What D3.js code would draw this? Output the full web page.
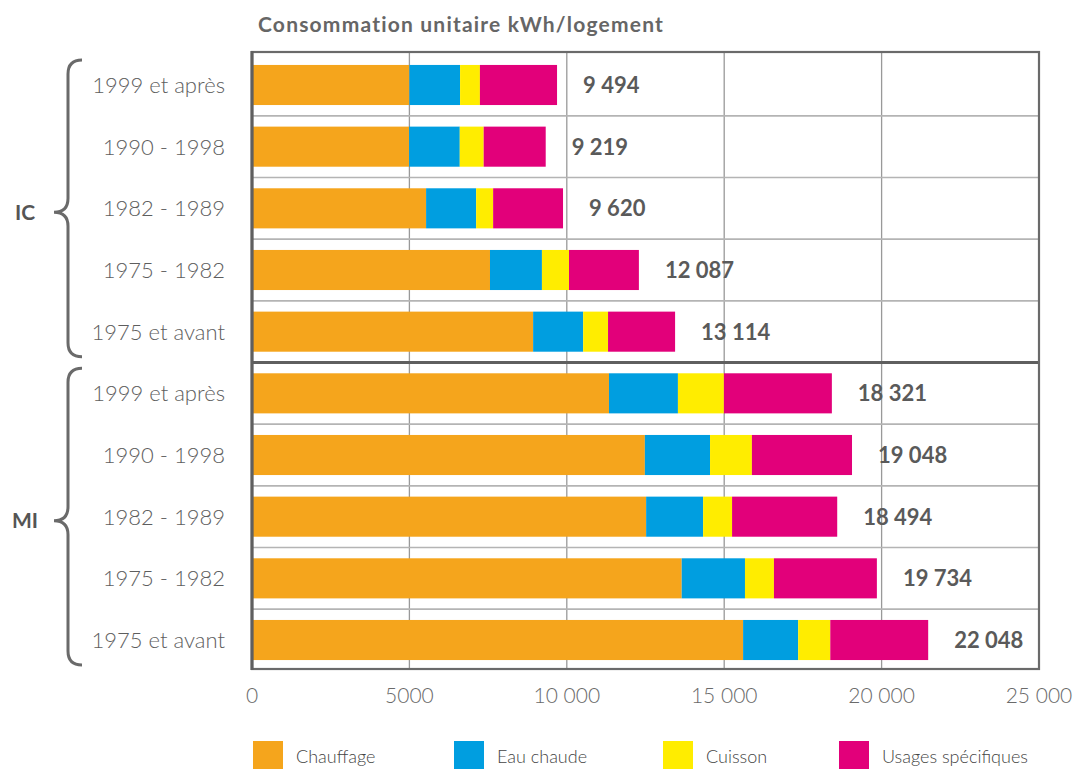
<!DOCTYPE html>
<html><head><meta charset="utf-8">
<script src="https://cdn.jsdelivr.net/npm/d3@7"></script>
<style>
html,body{margin:0;padding:0;background:#fff;}
svg{display:block;font-family:Lato,"Open Sans",sans-serif;}
</style></head>
<body><svg id="c" width="1073" height="769"></svg>
<script>
const groups = ["IC", "MI"];
const categories = ["1999 et après", "1990 - 1998", "1982 - 1989", "1975 - 1982", "1975 et avant"];
const series = ["Chauffage", "Eau chaude", "Cuisson", "Usages spécifiques"];
const chauffage = [5000, 4990, 5530, 7560, 8930, 11340, 12480, 12520, 13650, 15600];
const eauChaude = [1610, 1610, 1590, 1650, 1590, 2190, 2070, 1810, 2010, 1750];
const cuisson   = [630, 760, 540, 860, 790, 1460, 1330, 920, 920, 1020];
const usages    = [2450, 1970, 2220, 2220, 2130, 3430, 3180, 3340, 3270, 3110];
const totals    = [9494, 9219, 9620, 12087, 13114, 18321, 19048, 18494, 19734, 22048];
const xTicks    = [0, 5000, 10000, 15000, 20000, 25000];
const xTickLabels = ["0", "5000", "10 000", "15 000", "20 000", "25 000"];
const colors = ["#F5A51C", "#009EE0", "#FFED00", "#E2007A"];
const title = "Consommation unitaire kWh/logement";

const svg = d3.select("#c");
const rows = [];
groups.forEach((g, gi) => categories.forEach((c, ci) => rows.push({g, c, id: g + "|" + c, i: gi * categories.length + ci})));
const seriesVals = [chauffage, eauChaude, cuisson, usages];
const table = rows.map(r => {
  const o = {id: r.id};
  series.forEach((s, si) => o[s] = seriesVals[si][r.i]);
  return o;
});
const stacked = d3.stack().keys(series)(table);

const x = d3.scaleLinear().domain([0, 25000]).range([252, 1039]);
const y = d3.scaleBand().domain(rows.map(r => r.id)).range([52, 673]).paddingInner(0.35).paddingOuter(0.21);
const plotTop = 52, plotBottom = 669;

const fmt = d3.formatLocale({thousands: " ", grouping: [3], decimal: ","}).format(",");

// vertical grid
svg.append("g").selectAll("line").data(xTicks.slice(1, -1)).join("line")
  .attr("x1", d => x(d)).attr("x2", d => x(d)).attr("y1", plotTop).attr("y2", plotBottom)
  .attr("stroke", "#999").attr("stroke-width", 1.3);
// horizontal grid between rows
const step = y.step();
const gap = step - y.bandwidth();
svg.append("g").selectAll("line").data(rows.slice(1)).join("line")
  .attr("x1", x(0)).attr("x2", x(25000))
  .attr("y1", d => y(d.id) - gap / 2)
  .attr("y2", d => y(d.id) - gap / 2)
  .attr("stroke", "#b4b4b4").attr("stroke-width", 1.6);

// bars
svg.append("g").selectAll("g").data(stacked).join("g")
  .attr("fill", (d, i) => colors[i])
  .selectAll("rect").data(d => d).join("rect")
  .attr("x", d => x(d[0])).attr("width", d => x(d[1]) - x(d[0]))
  .attr("y", d => y(d.data.id)).attr("height", y.bandwidth());

// group divider
const divY = y(rows[categories.length].id) - gap / 2;
svg.append("line").attr("x1", x(0)).attr("x2", x(25000)).attr("y1", divY).attr("y2", divY)
  .attr("stroke", "#5f5f5f").attr("stroke-width", 3);

// frame
svg.append("rect").attr("x", x(0)).attr("y", plotTop).attr("width", x(25000) - x(0)).attr("height", plotBottom - plotTop)
  .attr("fill", "none").attr("stroke", "#6a6a6a").attr("stroke-width", 2.2);
svg.append("line").attr("x1", x(0)).attr("x2", x(0)).attr("y1", plotTop - 1).attr("y2", plotBottom + 1)
  .attr("stroke", "#5f5f5f").attr("stroke-width", 3.2);

// total labels
svg.append("g").selectAll("text").data(rows).join("text")
  .attr("x", d => x(stacked[stacked.length - 1][d.i][1]) + 26)
  .attr("y", d => y(d.id) + y.bandwidth() / 2)
  .attr("dy", "0.36em")
  .attr("font-size", 22).attr("font-weight", 700).attr("fill", "#5a5a5a")
  .text(d => fmt(totals[d.i]));

// category labels
svg.append("g").selectAll("text").data(rows).join("text")
  .attr("x", 225).attr("y", d => y(d.id) + y.bandwidth() / 2)
  .attr("dy", "0.36em").attr("text-anchor", "end")
  .attr("font-size", 22).attr("font-weight", 300).attr("fill", "#5e5e5e")
  .text(d => d.c);

// x tick labels
svg.append("g").selectAll("text").data(xTicks).join("text")
  .attr("x", d => x(d)).attr("y", 703).attr("text-anchor", "middle")
  .attr("font-size", 21).attr("font-weight", 300).attr("fill", "#6a6a6a")
  .text((d, i) => xTickLabels[i]);

// braces and group labels
groups.forEach((g, gi) => {
  const ids = rows.filter(r => r.g === g).map(r => r.id);
  const y0 = y(ids[0]) - 5, y1 = y(ids[ids.length - 1]) + y.bandwidth() + 5;
  const ym = (y0 + y1) / 2 + 4;
  const xs = 68, xr = 82, xt = 54, r = 14;
  const p = `M${xr},${y0} Q${xs},${y0} ${xs},${y0 + r} L${xs},${ym - r} Q${xs},${ym} ${xt},${ym} Q${xs},${ym} ${xs},${ym + r} L${xs},${y1 - r} Q${xs},${y1} ${xr},${y1}`;
  svg.append("path").attr("d", p).attr("fill", "none").attr("stroke", "#6a6a6a").attr("stroke-width", 3);
  svg.append("text").attr("x", 25).attr("y", ym).attr("dy", "0.36em").attr("text-anchor", "middle")
    .attr("font-size", 21).attr("font-weight", 700).attr("fill", "#555").text(g);
});

// title
svg.append("text").attr("x", 258).attr("y", 32).attr("font-size", 21).attr("font-weight", 700)
  .attr("letter-spacing", 1.2).attr("fill", "#666").text(title);

// legend
const legX = [253, 454, 663, 839];
const leg = svg.append("g").selectAll("g").data(series).join("g")
  .attr("transform", (d, i) => `translate(${legX[i]},741)`);
leg.append("rect").attr("width", 30).attr("height", 29).attr("fill", (d, i) => colors[i]);
leg.append("text").attr("x", 43).attr("y", 16).attr("dy", "0.36em")
  .attr("font-size", 18).attr("font-weight", 300).attr("fill", "#444").text(d => d);
</script></body></html>
